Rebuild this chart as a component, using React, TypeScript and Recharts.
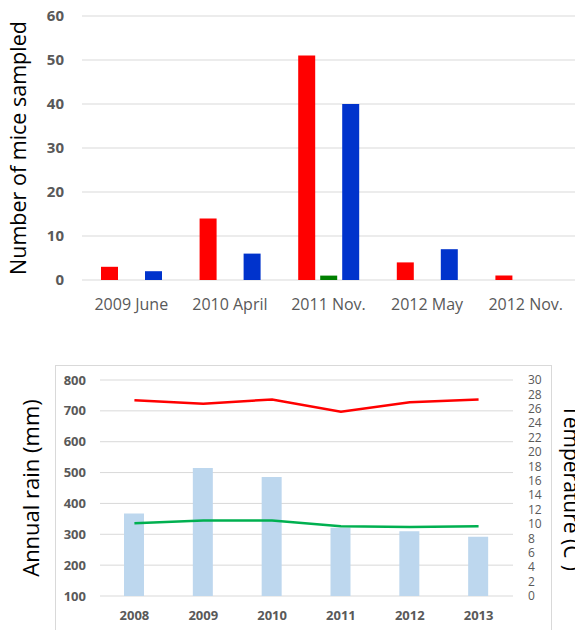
import { Bar, BarChart, CartesianGrid, ComposedChart, Label, Line, XAxis, YAxis } from 'recharts';

const sampleDates = ['2009 June', '2010 April', '2011 Nov.', '2012 May', '2012 Nov.'];
const redCounts = [3, 14, 51, 4, 1];
const greenCounts = [0, 0, 1, 0, 0];
const blueCounts = [2, 6, 40, 7, 0];
const countTicks = [0, 10, 20, 30, 40, 50, 60];

const years = ['2008', '2009', '2010', '2011', '2012', '2013'];
const annualRain = [367, 515, 486, 321, 310, 292];
const maxTemp = [27.2, 26.7, 27.3, 25.6, 26.9, 27.3];
const minTemp = [10.1, 10.5, 10.5, 9.7, 9.6, 9.7];
const rainTicks = [100, 200, 300, 400, 500, 600, 700, 800];
const tempTicks = [0, 2, 4, 6, 8, 10, 12, 14, 16, 18, 20, 22, 24, 26, 28, 30];

const font = '"Open Sans", sans-serif';
const grey = '#595959';
const gridColor = '#d9d9d9';

const miceData = sampleDates.map((d, i) => ({
  date: d,
  red: redCounts[i],
  green: greenCounts[i],
  blue: blueCounts[i],
}));

const climateData = years.map((y, i) => ({
  year: y,
  rain: annualRain[i],
  max: maxTemp[i],
  min: minTemp[i],
}));

export default function App() {
  return (
    <div style={{ position: 'absolute', left: 0, top: 0, width: 575, height: 630, overflow: 'hidden', background: '#fff', fontFamily: font }}>
      <div style={{ position: 'absolute', left: 0, top: 0 }}>
        <BarChart
          width={575}
          height={320}
          data={miceData}
          margin={{ top: 16, right: 0, left: 0, bottom: 10 }}
          barSize={17}
          barGap={5}
        >
          <CartesianGrid vertical={false} stroke={gridColor} />
          <XAxis
            dataKey="date"
            axisLine={false}
            tickLine={false}
            tickSize={0}
            tickMargin={19}
            interval={0}
            tick={{ fill: grey, fontSize: 16, fontFamily: font }}
          />
          <YAxis
            width={82}
            domain={[0, 60]}
            ticks={countTicks}
            axisLine={false}
            tickLine={false}
            tickSize={0}
            tickMargin={18}
            tick={{ fill: grey, fontSize: 15, fontWeight: 700, fontFamily: font }}
          >
            <Label
              value="Number of mice sampled"
              angle={-90}
              position="insideLeft"
              offset={18}
              style={{ textAnchor: 'middle', fill: '#000', fontSize: 21.5, fontFamily: font }}
            />
          </YAxis>
          <Bar dataKey="red" fill="#ff0000" isAnimationActive={false} />
          <Bar dataKey="green" fill="#008000" isAnimationActive={false} />
          <Bar dataKey="blue" fill="#0033cc" isAnimationActive={false} />
        </BarChart>
      </div>

      <div
        style={{
          position: 'absolute',
          left: 55,
          top: 365,
          width: 495,
          height: 300,
          border: `1px solid ${gridColor}`,
        }}
      />

      <div style={{ position: 'absolute', left: 0, top: 365 }}>
        <ComposedChart
          width={575}
          height={265}
          data={climateData}
          margin={{ top: 15, right: 0, left: 0, bottom: 4 }}
          barSize={20}
        >
          <CartesianGrid vertical={false} stroke={gridColor} yAxisId="rain" />
          <XAxis
            dataKey="year"
            axisLine={false}
            tickLine={false}
            tickSize={0}
            tickMargin={15}
            interval={0}
            tick={{ fill: grey, fontSize: 13, fontWeight: 700, fontFamily: font }}
          />
          <YAxis
            yAxisId="rain"
            width={100}
            domain={[100, 800]}
            ticks={rainTicks}
            axisLine={false}
            tickLine={false}
            tickSize={0}
            tickMargin={14}
            tick={{ fill: grey, fontSize: 13, fontWeight: 700, fontFamily: font }}
          >
            <Label
              value="Annual rain (mm)"
              angle={-90}
              position="insideLeft"
              offset={31}
              style={{ textAnchor: 'middle', fill: '#000', fontSize: 22, fontFamily: font }}
            />
          </YAxis>
          <YAxis
            yAxisId="temp"
            orientation="right"
            width={62}
            domain={[0, 30]}
            ticks={tempTicks}
            interval={0}
            axisLine={false}
            tickLine={false}
            tickSize={0}
            tickMargin={15}
            tick={{ fill: grey, fontSize: 12, fontFamily: font }}
          >
            <Label
              value="Temperature (C˚)"
              angle={90}
              position="insideRight"
              offset={4}
              style={{ textAnchor: 'middle', fill: '#000', fontSize: 21, fontFamily: font }}
            />
          </YAxis>
          <Bar yAxisId="rain" dataKey="rain" fill="#bdd7ee" isAnimationActive={false} />
          <Line yAxisId="temp" dataKey="max" stroke="#ff0000" strokeWidth={2.5} dot={false} isAnimationActive={false} />
          <Line yAxisId="temp" dataKey="min" stroke="#00b050" strokeWidth={2.5} dot={false} isAnimationActive={false} />
        </ComposedChart>
      </div>
    </div>
  );
}
